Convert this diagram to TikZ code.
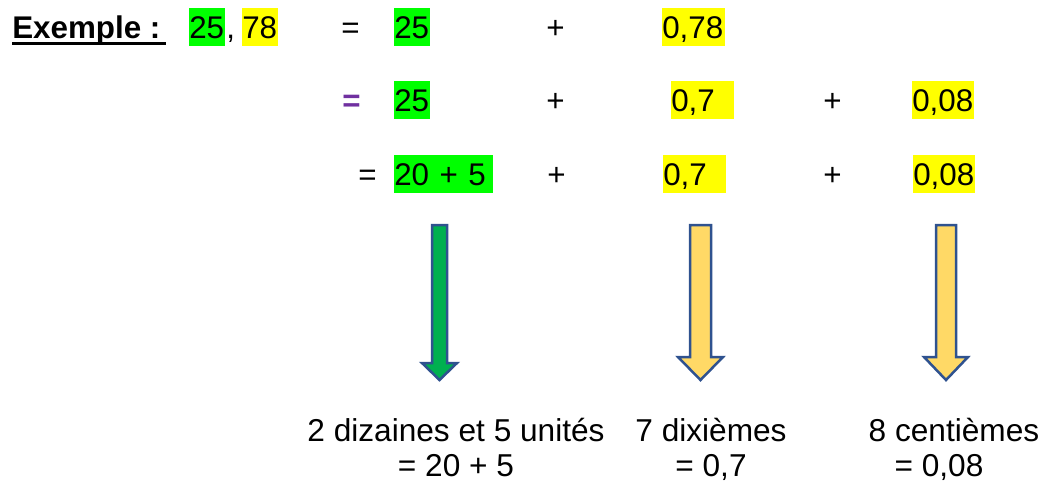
\documentclass[tikz,border=0pt]{standalone}
\usepackage{fontspec}
\setmainfont{Liberation Sans}

\definecolor{hlgreen}{HTML}{00FF00}
\definecolor{hlyellow}{HTML}{FFFF00}
\definecolor{arrgreen}{HTML}{00B050}
\definecolor{arryellow}{HTML}{FFD966}
\definecolor{arrline}{HTML}{2F528F}
\definecolor{eqpurple}{HTML}{7030A0}

\newlength{\pxu}
\setlength{\pxu}{0.25mm}

\begin{document}
\begin{tikzpicture}[
  x=0.25mm, y=-0.25mm,
  txt/.style={anchor=base west, inner sep=0pt, font=\fontsize{22.3}{25}\selectfont},
  hl/.style={txt, inner ysep=7.75\pxu, text height=22.5\pxu, text depth=0pt, align=left},
  hlg/.style={hl, fill=hlgreen},             % whole part
  hly/.style={hl, fill=hlyellow},            % decimal part
  title/.style={txt, font=\fontsize{22.3}{25}\selectfont\bfseries},
  peq/.style={title, text=eqpurple},
  uline/.style={line width=3\pxu},
  bigarrow/.style={draw=arrline, line width=2.5\pxu, line join=miter},
  garr/.style={bigarrow, fill=arrgreen},
  yarr/.style={bigarrow, fill=arryellow},
  lbl/.style={anchor=base, inner sep=0pt, align=center, font=\fontsize{22.5}{24.2}\selectfont},
]
  \useasboundingbox (0,0) rectangle (1044,481);

  % ---- Row 1: 25,78 = 25 + 0,78 ----
  \node[title] (ex) at (12,38.25) {Exemple :};
  \draw[uline] ([yshift=-5\pxu]ex.base west) -- ([yshift=-5\pxu, xshift=5\pxu]ex.base east);
  \node[hlg, text width=36\pxu] (r1int)  at (189,38.25) {25};
  \node[txt]                    (r1cm)   at (226,38.25) {,};
  \node[hly, text width=36\pxu] (r1dec)  at (242,38.25) {78};
  \node[txt]                    (r1eq)   at (341,38.25) {=};
  \node[hlg, text width=36\pxu] (r1u)    at (394,38.25) {25};
  \node[txt]                    (r1pl)   at (546,38.25) {+};
  \node[hly, text width=63\pxu] (r1d)    at (662,38.25) {0,78};

  % ---- Row 2: = 25 + 0,7 + 0,08 ----
  \node[peq]                    (r2eq)   at (342,111.25) {=};
  \node[hlg, text width=36\pxu] (r2u)    at (394,111.25) {25};
  \node[txt]                    (r2pl)   at (546,111.25) {+};
  \node[hly, text width=63\pxu] (r2d)    at (671,111.25) {0,7};
  \node[txt]                    (r2plb)  at (823,111.25) {+};
  \node[hly, text width=62\pxu] (r2c)    at (912,111.25) {0,08};

  % ---- Row 3: = 20 + 5 + 0,7 + 0,08 ----
  \node[txt]                    (r3eq)   at (358,185.25) {=};
  \node[hlg, text width=99\pxu] (r3u)    at (394,185.25) {20 + 5};
  \node[txt]                    (r3pl)   at (547,185.25) {+};
  \node[hly, text width=63\pxu] (r3d)    at (663,185.25) {0,7};
  \node[txt]                    (r3plb)  at (823,185.25) {+};
  \node[hly, text width=62\pxu] (r3c)    at (913,185.25) {0,08};

  % ==== BLOCK ARROWS ====
  \draw[garr] (432,225) -- (447,225) -- (447,363) -- (457,363) -- (439.5,380)
              -- (422,363) -- (432,363) -- cycle;
  \draw[yarr] (690,225) -- (711,225) -- (711,357) -- (723,357) -- (700.5,380)
              -- (678,357) -- (690,357) -- cycle;
  \draw[yarr] (936,225) -- (956,225) -- (956,357) -- (968,357) -- (946,380)
              -- (924,357) -- (936,357) -- cycle;

  % ==== LABELS (base = last line) ====
  \node[lbl] (lbu) at (456,476) {2 dizaines et 5 unités\\= 20 + 5};
  \node[lbl] (lbd) at (711,476) {7 dixièmes\\= 0,7};
  \node[lbl] (lbc) at (954,476) {8 centièmes\\= 0,08\hspace*{30\pxu}};
\end{tikzpicture}
\end{document}
